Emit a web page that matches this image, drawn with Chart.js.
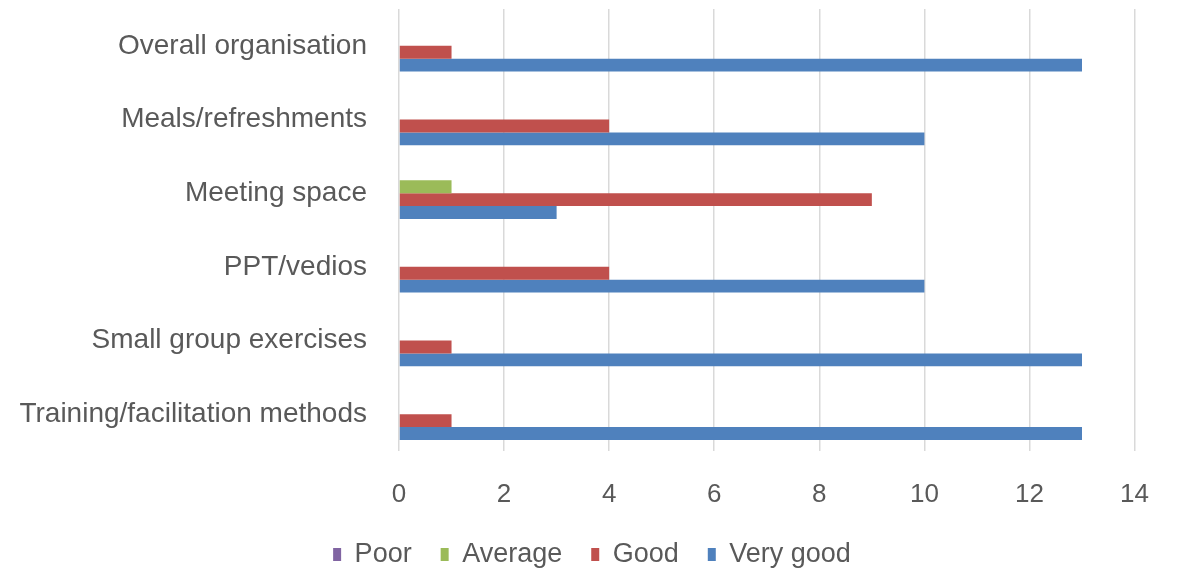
<!DOCTYPE html>
<html>
<head>
    <meta charset="UTF-8">
    <title>Training evaluation</title>
    <script type="text/javascript" src="https://cdn.jsdelivr.net/npm/chart.js@4/dist/chart.umd.min.js"></script>
    <style type="text/css">
        body { margin: 0; background: #fff; }
        #wrap { width: 1177px; height: 571px; }
    </style>
</head>
<body>
    <div id="wrap"><canvas id="_canvas"></canvas></div>
    <script type="text/javascript">
        // categories (top to bottom)
        var categories = ["Overall organisation", "Meals/refreshments", "Meeting space",
            "PPT/vedios", "Small group exercises", "Training/facilitation methods"];
        var seriesNames = ["Poor", "Average", "Good", "Very good"];
        var poor = [0, 0, 0, 0, 0, 0];
        var average = [0, 0, 1, 0, 0, 0];
        var good = [1, 4, 9, 4, 1, 1];
        var veryGood = [13, 10, 3, 10, 13, 13];
        var xTicks = [0, 2, 4, 6, 8, 10, 12, 14];

        var colors = ["#8064A2", "#9BBB59", "#C0504D", "#4F81BD"];
        var values = [poor, average, good, veryGood];

        var datasets = [];
        for (var i = 0; i < seriesNames.length; i++) {
            datasets.push({
                label: seriesNames[i],
                data: values[i],
                backgroundColor: colors[i],
                borderWidth: 0,
                categoryPercentage: 0.7,
                barPercentage: 1.0
            });
        }

        var textColor = "#595959";
        var fontFam = "'Liberation Sans', Arial, sans-serif";

        // legend is centred on the whole picture, not on the plot
        var legendShift = {
            id: 'legendShift',
            afterLayout: function (chart) {
                chart.legend.left += 24;
                chart.legend.right += 24;
            }
        };

        var ctx = document.getElementById("_canvas").getContext("2d");
        var chart = new Chart(ctx, {
            type: 'bar',
            data: { labels: categories, datasets: datasets },
            plugins: [legendShift],
            options: {
                indexAxis: 'y',
                responsive: true,
                maintainAspectRatio: false,
                animation: false,
                layout: { padding: { left: 0, right: 41, top: 9, bottom: -7 } },
                scales: {
                    x: {
                        min: xTicks[0],
                        max: xTicks[xTicks.length - 1],
                        afterBuildTicks: function (axis) {
                            axis.ticks = xTicks.map(function (v) { return { value: v }; });
                        },
                        afterFit: function (axis) { axis.height = 61; },
                        grid: { color: "#d9d9d9", lineWidth: 1.5, drawTicks: false },
                        border: { display: false },
                        ticks: { color: textColor, padding: 28, font: { family: fontFam, size: 26 } }
                    },
                    y: {
                        grid: { display: false, drawTicks: false },
                        border: { display: false },
                        afterFit: function (axis) {
                            axis.width = 399;
                            // keep the label padding from pushing the plot down
                            axis.paddingTop = 0;
                            axis.paddingBottom = 0;
                        },
                        ticks: { color: textColor, padding: 32, font: { family: fontFam, size: 28 } }
                    }
                },
                plugins: {
                    legend: {
                        position: 'bottom',
                        labels: {
                            color: textColor,
                            boxWidth: 8,
                            boxHeight: 13,
                            padding: 29,
                            font: { family: fontFam, size: 27 }
                        }
                    },
                    tooltip: { enabled: false }
                }
            }
        });
    </script>
</body>
</html>
